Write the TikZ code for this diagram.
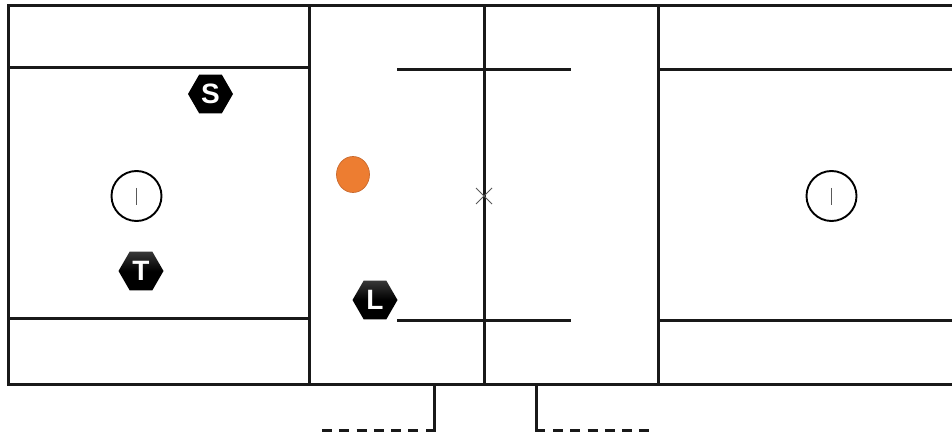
\documentclass[tikz,border=0pt]{standalone}
\usepackage{fontspec}
\setmainfont{Liberation Sans}
\usetikzlibrary{shapes.geometric}
\tikzset{
  x=1pt,y=-1pt,
  fieldline/.style={line width=2.6pt,draw=black!90},
  thinline/.style={line width=1pt,draw=black!65},
  hexplayer/.style={regular polygon,regular polygon sides=6,minimum size=45pt,inner sep=0pt,outer sep=0pt,text=white,font=\bfseries\fontsize{28}{28}\selectfont},
  faceoff/.style={circle,draw=black,line width=1.9pt,minimum size=50pt,inner sep=0pt,fill=white},
  dashline/.style={line width=2.6pt,draw=black!90,dash pattern=on 10pt off 7.25pt}
}
\begin{document}
\begin{tikzpicture}
\useasboundingbox (0,0) rectangle (952,435);
% outer field
\draw[fieldline] (952,5.3) -- (8.3,5.3) -- (8.3,384.3) -- (952,384.3);
\draw[fieldline] (309.3,5.3) -- (309.3,384.3);
\draw[fieldline] (484.3,5.3) -- (484.3,384.3);
\draw[fieldline] (658.3,5.3) -- (658.3,384.3);
% horizontal lines
\draw[fieldline] (8.3,67.3) -- (310,67.3);
\draw[fieldline] (8.3,318.3) -- (310,318.3);
\draw[fieldline] (658.3,69.3) -- (952,69.3);
\draw[fieldline] (658.3,320.3) -- (952,320.3);
\draw[fieldline] (397,69.3) -- (571,69.3);
\draw[fieldline] (397,320.3) -- (571,320.3);
% faceoff circles
\node[faceoff] (leftcircle) at (136.5,196) {};
\node[faceoff] (rightcircle) at (831.5,196) {};
\draw[thinline] (136.5,188) -- (136.5,205);
\draw[thinline] (831.5,188) -- (831.5,205);
% centre cross
\draw[thinline] (476,188) -- (492,204);
\draw[thinline] (492,188) -- (476,204);
% ball
\node[ellipse,draw={rgb,255:red,200;green,105;blue,45},line width=0.7pt,fill={rgb,255:red,237;green,125;blue,49},minimum width=33pt,minimum height=36pt,inner sep=0pt] (ball) at (353,174.5) {};
% players
\node[hexplayer,fill=black] (S) at (210.5,94) {S};
\node[hexplayer,top color=black!78,bottom color=black,middle color=black] (T) at (141,271) {T};
\node[hexplayer,top color=black!78,bottom color=black,middle color=black] (L) at (375,300) {L};
% bench areas
\draw[fieldline] (434.3,384.3) -- (434.3,430.3) -- (425.5,430.3);
\draw[dashline] (322,430.3) -- (425,430.3);
\draw[fieldline] (536.3,384.3) -- (536.3,430.3) -- (545,430.3);
\draw[dashline] (553,430.3) -- (650,430.3);
\end{tikzpicture}
\end{document}
